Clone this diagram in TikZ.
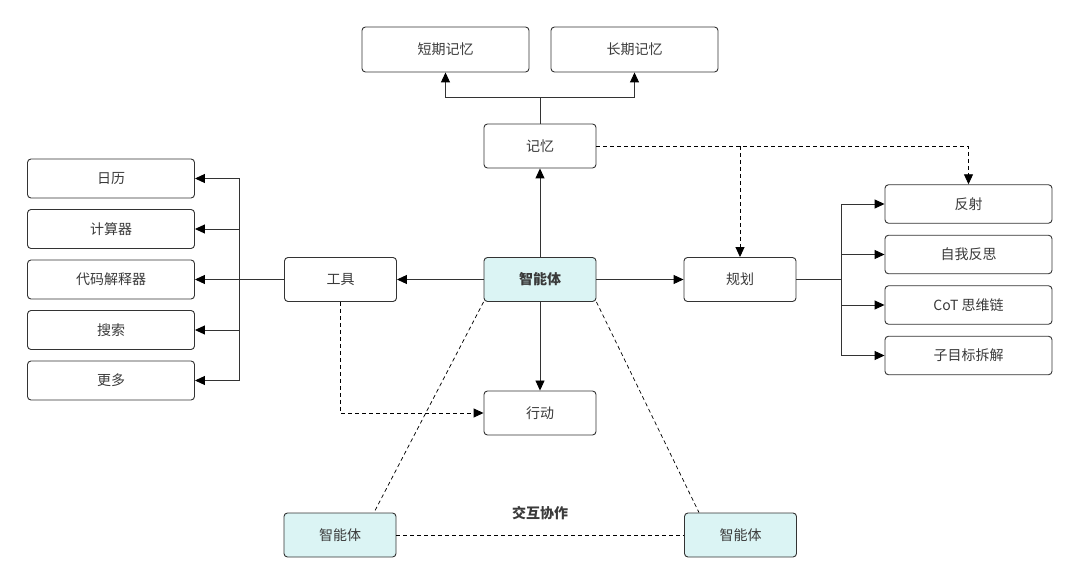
\documentclass[tikz,border=0pt]{standalone}
\usepackage{fontspec}
\setmainfont{Noto Sans CJK SC}
\usepackage{xcolor}
\usetikzlibrary{arrows.meta,calc,positioning}
\definecolor{edge}{HTML}{333333}
\definecolor{ink}{HTML}{3A3A3A}
\definecolor{agentfill}{HTML}{DBF4F4}

\begin{document}
\begin{tikzpicture}[
    x=1pt,y=-1pt,
    box/.style={draw=edge,line width=0.9pt,rounded corners=3.5pt,fill=white,
                text=ink,font=\fontsize{14}{16}\selectfont,inner sep=0pt,
                minimum width=112pt,minimum height=44pt},
    leaf/.style={box,minimum width=167pt,minimum height=39pt},
    agentbox/.style={box,fill=agentfill},
    link/.style={draw=black!80,line width=0.9pt},
    arr/.style={link,-{Triangle[length=10pt,width=9pt,color=black]}},
    dashlink/.style={link,draw=black,dash pattern=on 4pt off 3pt}
  ]
    \useasboundingbox (0,0) rectangle (1080,585);
    % centre
    \node[agentbox,font=\fontsize{14}{16}\selectfont\bfseries] (agent) at (540,279.5) {智能体};
    \node[box] (mem) at (540,146) {记忆};
    \node[box] (tool) at (340.5,279.5) {工具};
    \node[box] (plan) at (740,279.5) {规划};
    \node[box] (act) at (540,413) {行动};
    % memory
    \node[leaf,minimum height=45pt] (stm) at (445.5,49.5) {短期记忆};
    \node[leaf,minimum height=45pt] (ltm) at (634.5,49.5) {长期记忆};
    % tools
    \node[leaf] (cal) at (111,178.5) {日历};
    \node[leaf,below=10.6pt of cal] (calc) {计算器};
    \node[leaf,below=10.6pt of calc] (code) {代码解释器};
    \node[leaf,below=10.6pt of code] (search) {搜索};
    \node[leaf,below=10.6pt of search] (more) {更多};
    % planning
    \node[leaf,minimum height=38.5pt] (refl) at (968.5,204) {反射};
    \node[leaf,minimum height=38.5pt,below=11.1pt of refl] (self) {自我反思};
    \node[leaf,minimum height=38.5pt,below=11.1pt of self] (cot) {CoT 思维链};
    \node[leaf,minimum height=38.5pt,below=11.1pt of cot] (sub) {子目标拆解};
    % other agents
    \node[agentbox] (peerl) at (340,535) {智能体};
    \node[agentbox] (peerr) at (740.5,535) {智能体};
    \node[font=\fontsize{14}{16}\selectfont\bfseries,text=ink] (coop) at (540,513) {交互协作};

    % solid connectors
    \draw[arr] (agent) -- (mem);
    \draw[arr] (agent) -- (tool);
    \draw[arr] (agent) -- (plan);
    \draw[arr] (agent) -- (act);
    \draw[link] (mem.north) -- ++(0,-26) coordinate (memfork);
    \draw[arr] (memfork) -| (stm);
    \draw[arr] (memfork) -| (ltm);
    \draw[link] (tool.west) -- (239,279.5) coordinate (toolfork);
    \foreach \n in {cal,calc,code,search,more}
      \draw[arr] (toolfork) |- (\n.east);
    \draw[link] (plan.east) -- (841,279.5) coordinate (planfork);
    \foreach \n in {refl,self,cot,sub}
      \draw[arr] (planfork) |- (\n.west);

    % dashed connectors
    \draw[dashlink,-{Triangle[length=10pt,width=9pt]}] (mem.east) -| (refl.north);
    \coordinate (memtap) at (740,146);
    \draw[dashlink,-{Triangle[length=10pt,width=9pt]}] (memtap) -- (plan.north);
    \draw[dashlink,-{Triangle[length=10pt,width=9pt]}] (tool.south) |- (act.west);
    \draw[dashlink,line width=0.7pt] (agent.south west) -- ([xshift=34pt]peerl.north);
    \draw[dashlink,line width=0.7pt] (agent.south east) -- ([xshift=-41.5pt]peerr.north);
    \draw[dashlink] (peerl.east) -- (peerr.west);
\end{tikzpicture}
\end{document}
